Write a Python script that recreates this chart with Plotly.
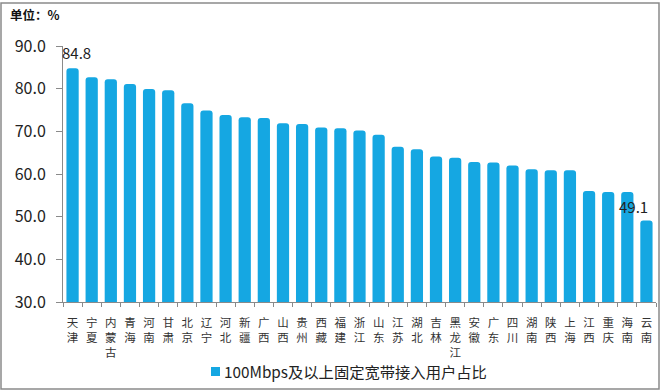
import plotly.graph_objects as go

provinces = ["天津", "宁夏", "内蒙古", "青海", "河南", "甘肃", "北京", "辽宁", "河北", "新疆",
             "广西", "山西", "贵州", "西藏", "福建", "浙江", "山东", "江苏", "湖北", "吉林",
             "黑龙江", "安徽", "广东", "四川", "湖南", "陕西", "上海", "江西", "重庆", "海南", "云南"]
share = [84.8, 82.7, 82.2, 81.1, 79.9, 79.6, 76.6, 74.9, 73.8, 73.3,
         73.1, 71.9, 71.7, 70.9, 70.7, 70.2, 69.2, 66.4, 65.8, 64.1,
         63.8, 62.8, 62.7, 62.0, 61.1, 60.9, 60.9, 56.0, 55.8, 55.8, 49.1]
series_name = "100Mbps及以上固定宽带接入用户占比"
y_ticks = [30, 40, 50, 60, 70, 80, 90]

FONT = "Noto Sans CJK SC"
BAR_COLOR = "#15a7e2"
W, H = 664, 391
L, R, T, B = 63, 8, 46, 89
pw, ph = W - L - R, H - T - B

def px_x(x):
    return (x - L) / pw

def px_y(y):
    return (H - B - y) / ph

# vertical (stacked) labels
tick_text = ["<br>".join(list(p)) for p in provinces]

fig = go.Figure()
fig.add_trace(go.Bar(
    x=provinces, y=share, name=series_name,
    marker=dict(color=BAR_COLOR, cornerradius=3, line=dict(width=0)),
    showlegend=False,
))

fig.add_annotation(x=provinces[0], y=share[0], text=f"{share[0]:.1f}", showarrow=False,
                   yanchor="bottom", yshift=3, xshift=4,
                   font=dict(family=FONT, size=15, color="#222"))
fig.add_annotation(x=provinces[-1], y=share[-1], text=f"{share[-1]:.1f}", showarrow=False,
                   yanchor="bottom", yshift=2, xshift=-13,
                   font=dict(family=FONT, size=15, color="#222"))

fig.add_annotation(xref="paper", yref="paper", x=px_x(8), y=px_y(14), xanchor="left",
                   yanchor="middle", text="<b>单位：%</b>", showarrow=False,
                   font=dict(family=FONT, size=12.5, color="#111"))

# legend drawn as swatch + text
fig.add_shape(type="rect", xref="paper", yref="paper",
              x0=px_x(211), x1=px_x(220), y0=px_y(376), y1=px_y(367),
              line=dict(width=0), fillcolor=BAR_COLOR)
fig.add_annotation(xref="paper", yref="paper", x=px_x(222), y=px_y(371), xanchor="left",
                   yanchor="middle", text=series_name, showarrow=False,
                   font=dict(family=FONT, size=15.3, color="#222"))

fig.add_shape(type="rect", xref="paper", yref="paper",
              x0=px_x(1), x1=px_x(659), y0=px_y(389), y1=px_y(3),
              line=dict(color="#8a8a8a", width=1.5), fillcolor="rgba(0,0,0,0)", layer="below")

fig.update_layout(
    width=W, height=H,
    margin=dict(l=L, r=R, t=T, b=B, pad=0),
    paper_bgcolor="white", plot_bgcolor="white",
    bargap=0.36,
    font=dict(family=FONT, color="#222"),
    showlegend=False,
    xaxis=dict(tickmode="array", tickvals=provinces, ticktext=tick_text,
               tickfont=dict(family=FONT, size=11.5, color="#333"),
               showline=True, linecolor="#8a8a8a", linewidth=1,
               ticks="outside", tickson="boundaries", ticklen=4, tickcolor="#8a8a8a",
               showgrid=False, tickangle=0, range=[-0.5, len(provinces) - 0.5],
               ticklabelstandoff=10),
    yaxis=dict(range=[30, 90], tickvals=y_ticks, tickformat=".1f",
               tickfont=dict(family=FONT, size=16, color="#222"),
               showline=True, linecolor="#8a8a8a", linewidth=1,
               ticks="outside", ticklen=6, tickcolor="#8a8a8a",
               showgrid=False, zeroline=False, ticklabelstandoff=7),
)

fig.write_html("out.html", config={"displayModeBar": False},
               post_script="document.body.style.margin='0';document.body.style.overflow='hidden';")
